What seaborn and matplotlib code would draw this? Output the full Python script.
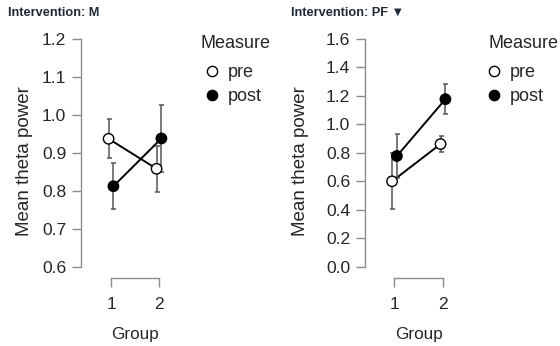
import matplotlib
matplotlib.use("Agg")
import matplotlib.pyplot as plt
from matplotlib.lines import Line2D
import seaborn as sns
import pandas as pd
import numpy as np

# ---- data ----
interventions = ["M", "PF"]
groups = [1, 2]
measures = ["pre", "post"]
m_pre_mean = [0.937, 0.858]
m_post_mean = [0.812, 0.938]
m_pre_ci = [0.051, 0.060]
m_post_ci = [0.061, 0.088]
pf_pre_mean = [0.600, 0.862]
pf_post_mean = [0.778, 1.177]
pf_pre_ci = [0.198, 0.057]
pf_post_ci = [0.157, 0.106]
y_ticks = {"M": [0.6, 0.7, 0.8, 0.9, 1.0, 1.1, 1.2],
           "PF": [0.0, 0.2, 0.4, 0.6, 0.8, 1.0, 1.2, 1.4, 1.6]}
titles = {"M": "Intervention: M", "PF": "Intervention: PF \u25BC"}
legend_title = "Measure"
x_label = "Group"
y_label = "Mean theta power"

rows = []
for iv, pm, qm, pc, qc in [("M", m_pre_mean, m_post_mean, m_pre_ci, m_post_ci),
                           ("PF", pf_pre_mean, pf_post_mean, pf_pre_ci, pf_post_ci)]:
    for gi, g in enumerate(groups):
        rows.append(dict(Intervention=iv, Group=g, Measure="pre", mean=pm[gi], ci=pc[gi]))
        rows.append(dict(Intervention=iv, Group=g, Measure="post", mean=qm[gi], ci=qc[gi]))
df = pd.DataFrame(rows)

dodge = {"pre": -0.05, "post": 0.05}
df["xpos"] = df["Group"] + df["Measure"].map(dodge)

sns.set_style("white")
plt.rcParams["font.family"] = ["Liberation Sans", "DejaVu Sans"]

W, H = 560, 346
fig = plt.figure(figsize=(5.6, 3.46), dpi=100)

layout = {
    "M": dict(left=81, xlim=(0.375, 2.35), title_x=8, leg_x=204.5, legt_x=200,
              ylab_x=-0.506),
    "PF": dict(left=365, xlim=(0.392, 2.347), title_x=291, leg_x=486.8, legt_x=488,
               ylab_x=-0.591),
}
ax_bottom = (H - 266.7) / H
ax_height = 227.7 / H
ax_width = 94.8 / W

axis_gray = "#8c8c8c"
text_col = "#262626"

for iv in interventions:
    L = layout[iv]
    ax = fig.add_axes([L["left"] / W, ax_bottom, ax_width, ax_height])
    sub = df[df["Intervention"] == iv]
    sns.lineplot(data=sub, x="xpos", y="mean", hue="Measure",
                 palette={"pre": "black", "post": "black"},
                 linewidth=1.4, legend=False, ax=ax, zorder=2)
    for meas in measures:
        s = sub[sub["Measure"] == meas]
        ax.errorbar(s["xpos"], s["mean"], yerr=s["ci"], fmt="none",
                    ecolor="#555555", elinewidth=1.1, capsize=1.8,
                    capthick=1.1, zorder=2.5)
    sns.scatterplot(data=sub, x="xpos", y="mean", hue="Measure",
                    palette={"pre": "white", "post": "black"},
                    edgecolor="black", linewidth=1.0, s=56,
                    legend=False, ax=ax, zorder=3)
    yt = y_ticks[iv]
    ax.set_ylim(yt[0], yt[-1])
    ax.set_xlim(*L["xlim"])
    ax.set_yticks(yt)
    ax.set_yticklabels([f"{v:.1f}" for v in yt])
    ax.set_xticks(groups)
    ax.set_xticklabels([str(g) for g in groups])
    for sp in ["top", "right"]:
        ax.spines[sp].set_visible(False)
    ax.spines["left"].set_bounds(yt[0], yt[-1])
    ax.spines["bottom"].set_bounds(groups[0], groups[-1])
    ax.spines["bottom"].set_position(("outward", 8.1))
    for sp in ["left", "bottom"]:
        ax.spines[sp].set_color(axis_gray)
        ax.spines[sp].set_linewidth(1.0)
    ax.tick_params(axis="both", direction="out", length=6.6, width=1.0,
                   color=axis_gray, labelsize=12.6, labelcolor=text_col,
                   left=True, bottom=True)
    ax.tick_params(axis="y", pad=4)
    ax.tick_params(axis="x", pad=7)
    ax.set_xlabel(x_label, fontsize=12.3, color=text_col)
    ax.set_ylabel(y_label, fontsize=13.5, color=text_col)
    ax.xaxis.set_label_coords(0.57, (266.7 - 327) / 227.7)
    ax.yaxis.set_label_coords(L["ylab_x"], (266.7 - 161) / 227.7)
    ax.patch.set_alpha(0)

    fig.text(L["title_x"] / W, 1 - 12.5 / H, titles[iv], fontsize=9.2,
             fontweight="bold", color="#1e2a38", va="center", ha="left",
             family=["Liberation Sans Narrow", "Liberation Sans", "DejaVu Sans"])

    fig.text(L["legt_x"] / W, 1 - 48.3 / H, legend_title, fontsize=13,
             color=text_col, va="baseline", ha="left")

    handles = [Line2D([], [], linestyle="none", marker="o", markersize=7.4,
                      markerfacecolor="white", markeredgecolor="black", markeredgewidth=1.0),
               Line2D([], [], linestyle="none", marker="o", markersize=7.4,
                      markerfacecolor="black", markeredgecolor="black", markeredgewidth=1.0)]
    leg = ax.legend(handles, measures, frameon=False,
                    loc="upper left", bbox_to_anchor=(L["leg_x"] / W, 1 - 64 / H),
                    bbox_transform=fig.transFigure, fontsize=13,
                    handlelength=0.8, handletextpad=0.5, labelspacing=0.38,
                    borderpad=0, borderaxespad=0)
    for t in leg.get_texts():
        t.set_color(text_col)

fig.savefig("out.png", dpi=100)
